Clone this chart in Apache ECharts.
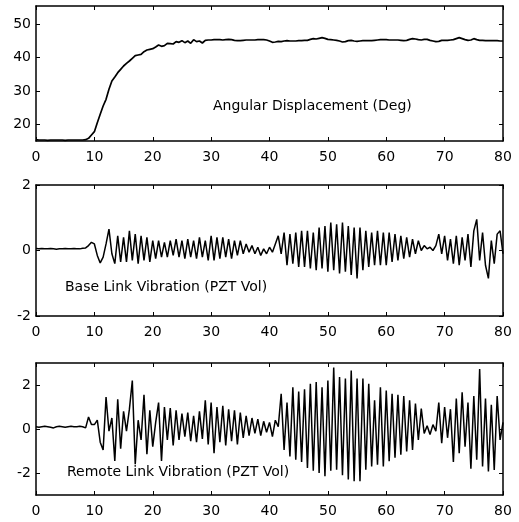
<!DOCTYPE html>
<html>
<head>
<meta charset="utf-8">
<script src="https://cdn.jsdelivr.net/npm/echarts@6/dist/echarts.min.js"></script>
<style>
html,body{margin:0;padding:0;background:#fff;}
#chart{width:519px;height:522px;}
</style>
</head>
<body>
<div id="chart"></div>
<script>
// ---- data (time in s) ----
const TIME = [
  0,0.5,1,1.5,2,2.5,3,3.5,4,4.5,5,5.5,6,6.5,7,7.5,8,8.5,9,9.5,
  10,10.5,11,11.5,12,12.5,13,13.5,14,14.5,15,15.5,16,16.5,17,17.5,18,18.5,19,19.5,
  20,20.5,21,21.5,22,22.5,23,23.5,24,24.5,25,25.5,26,26.5,27,27.5,28,28.5,29,29.5,
  30,30.5,31,31.5,32,32.5,33,33.5,34,34.5,35,35.5,36,36.5,37,37.5,38,38.5,39,39.5,
  40,40.5,41,41.5,42,42.5,43,43.5,44,44.5,45,45.5,46,46.5,47,47.5,48,48.5,49,49.5,
  50,50.5,51,51.5,52,52.5,53,53.5,54,54.5,55,55.5,56,56.5,57,57.5,58,58.5,59,59.5,
  60,60.5,61,61.5,62,62.5,63,63.5,64,64.5,65,65.5,66,66.5,67,67.5,68,68.5,69,69.5,
  70,70.5,71,71.5,72,72.5,73,73.5,74,74.5,75,75.5,76,76.5,77,77.5,78,78.5,79,79.5,
  80
];
const ANGLE = [
  15.4,15.3,15.3,15.3,15.2,15.3,15.3,15.3,15.3,15.3,15.2,15.3,15.3,15.3,15.3,15.3,15.3,15.4,15.8,16.8,
  17.8,20.5,23,25.5,27.5,30.5,33,34.2,35.5,36.5,37.5,38.3,39,39.8,40.6,40.8,41,41.8,42.3,42.5,
  42.7,43.2,43.8,43.4,43.6,44.3,44.2,44.1,44.8,44.6,45.1,44.5,45,44.3,45.4,44.8,45,44.4,45.2,45.3,
  45.3,45.4,45.4,45.4,45.3,45.4,45.5,45.4,45.2,45.1,45.1,45.2,45.3,45.3,45.3,45.3,45.4,45.4,45.4,45.3,
  45,44.6,44.7,44.9,44.8,45,45.1,45,45,45,45.1,45.1,45.2,45.2,45.5,45.7,45.6,45.8,46,45.8,
  45.5,45.4,45.3,45.2,45,44.7,44.8,45.1,45.2,45,44.9,45,45.1,45.1,45.1,45.1,45.2,45.3,45.4,45.4,
  45.4,45.3,45.3,45.3,45.3,45.2,45.1,45.2,45.5,45.7,45.6,45.4,45.3,45.5,45.5,45.2,45,44.8,44.9,45.2,
  45.2,45.2,45.3,45.4,45.7,46,45.7,45.4,45.2,45.3,45.7,45.4,45.2,45.2,45.1,45.1,45.1,45.1,45.1,45,
  45
];
const BASE = [
  0.06,0.05,0.06,0.05,0.05,0.06,0.05,0.04,0.05,0.05,0.06,0.05,0.05,0.06,0.05,0.05,0.07,0.08,0.15,0.25,
  0.2,-0.15,-0.38,-0.2,0.2,0.65,-0.1,-0.4,0.45,-0.35,0.4,-0.35,0.6,-0.3,0.5,-0.4,0.45,-0.3,0.4,-0.35,
  0.3,-0.25,0.3,-0.2,0.25,-0.2,0.3,-0.15,0.35,-0.2,0.3,-0.25,0.35,-0.2,0.3,-0.25,0.4,-0.2,0.3,-0.3,
  0.45,-0.3,0.4,-0.25,0.4,-0.2,0.35,-0.25,0.3,-0.15,0.3,-0.1,0.2,-0.05,0.15,-0.1,0.1,-0.15,0.05,-0.1,
  0.1,-0.05,0.2,0.45,-0.1,0.55,-0.45,0.5,-0.4,0.55,-0.5,0.6,-0.5,0.6,-0.55,0.55,-0.6,0.7,-0.55,0.75,
  -0.65,0.85,-0.6,0.8,-0.7,0.85,-0.65,0.75,-0.75,0.7,-0.85,0.7,-0.6,0.6,-0.5,0.55,-0.45,0.6,-0.45,0.55,
  -0.45,0.55,-0.35,0.5,-0.3,0.45,-0.25,0.4,-0.2,0.35,-0.1,0.3,0,0.15,0.05,0.1,0,0.15,0.5,-0.1,
  0.45,-0.3,0.35,-0.4,0.45,-0.45,0.4,-0.3,0.5,-0.5,0.6,0.95,-0.3,0.55,-0.45,-0.85,0.3,-0.4,0.5,0.6,
  -0.1
];
const REMOTE = [
  0.1,0.08,0.1,0.12,0.1,0.08,0.05,0.1,0.12,0.1,0.08,0.1,0.12,0.1,0.1,0.12,0.1,0.05,0.55,0.2,
  0.2,0.4,-0.6,-0.95,1.45,-0.1,0.5,-1.45,1.35,-0.9,0.8,-0.1,0.9,2.2,-1.6,0.4,-0.5,1.55,-1.15,0.85,
  -0.8,0.3,1.2,-1.45,1.0,-0.5,0.95,-0.75,0.85,-0.5,0.7,-0.35,0.75,-0.55,0.6,-0.6,0.8,-0.45,1.3,-0.7,
  1.2,-1.1,1.0,-0.6,1.05,-0.75,0.9,-0.55,0.85,-0.7,0.75,-0.4,0.6,-0.3,0.5,-0.2,0.45,-0.3,0.35,-0.15,
  0.3,-0.35,0.4,0.1,1.6,-0.95,1.2,-1.25,1.9,-1.4,1.7,-1.5,1.8,-1.77,2.06,-1.9,2.13,-2.0,1.9,-2.15,
  2.2,-1.9,2.8,-1.85,2.36,-2.1,2.3,-2.3,2.66,-2.37,2.3,-2.37,2.3,-1.85,2.06,-1.7,1.3,-1.62,1.9,-1.7,
  1.75,-1.47,1.6,-1.3,1.55,-1.17,1.5,-1.02,1.3,-0.95,1.16,-0.5,0.93,-0.2,0.15,-0.25,0.2,-0.1,1.2,-0.65,
  1.0,-0.4,0.9,-1.5,1.38,-1.1,1.67,-0.8,1.2,-1.8,1.5,-1.4,2.73,-1.7,1.38,-1.93,1.1,-1.86,1.5,-0.5,
  0.3
];
const X_RANGE = [0, 80];
const X_STEP = 10;
const ANGLE_RANGE = [15, 55.5];
const ANGLE_TICKS = [20, 30, 40, 50];
const BASE_RANGE = [-2, 2];
const BASE_TICKS = [-2, 0, 2];
const REMOTE_RANGE = [-3, 3];
const REMOTE_TICKS = [-2, 0, 2];
const LABELS = ['Angular Displacement (Deg)', 'Base Link Vibration (PZT Vol)', 'Remote Link Vibration (PZT Vol)'];

// ---- chart ----
const FONT = 'DejaVu Sans';
const axisLine = {show: true, onZero: false, lineStyle: {color: '#000', width: 1.5}};
const tickStyle = {color: '#000', width: 1};
const grids = [
  {left: 36, top: 6, width: 467, height: 135},
  {left: 36, top: 185, width: 467, height: 131},
  {left: 36, top: 363, width: 467, height: 132}
];
const yDefs = [
  {range: ANGLE_RANGE, ticks: ANGLE_TICKS},
  {range: BASE_RANGE, ticks: BASE_TICKS},
  {range: REMOTE_RANGE, ticks: REMOTE_TICKS}
];
const xAxis = [], yAxis = [];
grids.forEach((g, i) => {
  xAxis.push({
    type: 'value', gridIndex: i, position: 'bottom', min: X_RANGE[0], max: X_RANGE[1], interval: X_STEP,
    axisLine, splitLine: {show: false},
    axisTick: {show: true, inside: true, length: 4, lineStyle: tickStyle},
    axisLabel: {show: true, color: '#000', fontFamily: FONT, fontSize: 14, margin: 9}
  });
  xAxis.push({
    type: 'value', gridIndex: i, position: 'top', min: X_RANGE[0], max: X_RANGE[1], interval: X_STEP,
    axisLine, splitLine: {show: false},
    axisTick: {show: true, inside: true, length: 4, lineStyle: tickStyle},
    axisLabel: {show: false}
  });
  const d = yDefs[i];
  yAxis.push({
    type: 'value', gridIndex: i, position: 'left', min: d.range[0], max: d.range[1],
    axisLine, splitLine: {show: false},
    axisTick: {show: true, inside: true, length: 4, customValues: d.ticks, lineStyle: tickStyle},
    axisLabel: {show: true, color: '#000', fontFamily: FONT, fontSize: 14, margin: 5, customValues: d.ticks}
  });
  yAxis.push({
    type: 'value', gridIndex: i, position: 'right', min: d.range[0], max: d.range[1],
    axisLine, splitLine: {show: false},
    axisTick: {show: true, inside: true, length: 4, customValues: d.ticks, lineStyle: tickStyle},
    axisLabel: {show: false}
  });
});

const seriesData = [ANGLE, BASE, REMOTE];
const widths = [1.7, 1.5, 1.5];
const series = seriesData.map((vals, i) => ({
  type: 'line', xAxisIndex: i * 2, yAxisIndex: i * 2,
  data: TIME.map((t, k) => [t, vals[k]]),
  showSymbol: false, symbol: 'none', animation: false,
  lineStyle: {color: '#000', width: widths[i]}
}));

const labelPos = [[213, 99], [65, 280], [67, 465]];
const graphic = LABELS.map((txt, i) => ({
  type: 'text', left: labelPos[i][0], top: labelPos[i][1], silent: true,
  style: {text: txt, fill: '#000', font: '14px "' + FONT + '"'}
}));

const chart = echarts.init(document.getElementById('chart'), null, {renderer: 'canvas'});
chart.setOption({
  animation: false,
  backgroundColor: '#fff',
  grid: grids,
  xAxis, yAxis, series, graphic
});
</script>
</body>
</html>
